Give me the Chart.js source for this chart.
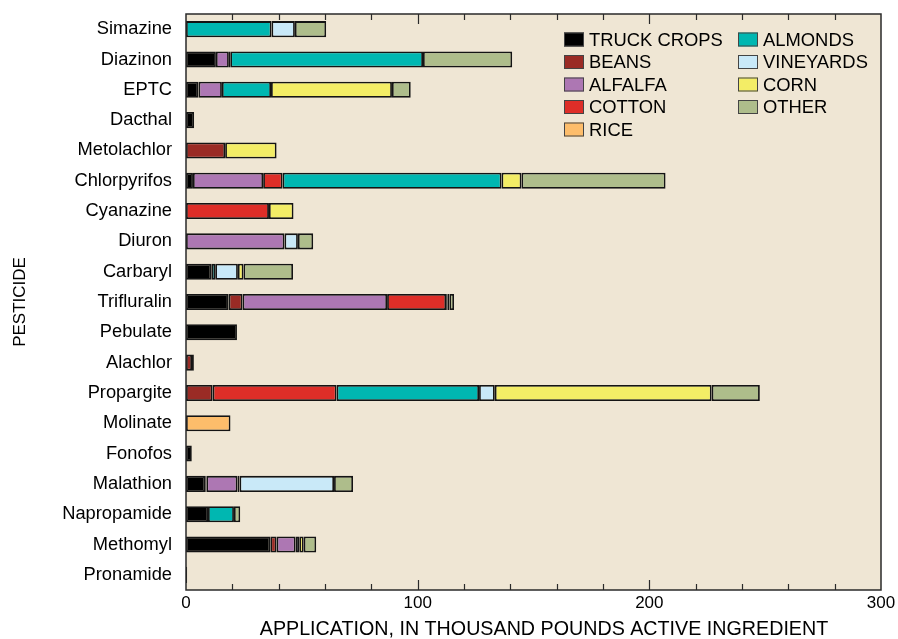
<!DOCTYPE html>
<html>
<head>
<meta charset="utf-8">
<script src="https://cdn.jsdelivr.net/npm/chart.js@4.4.1/dist/chart.umd.min.js"></script>
<style>
  html, body { margin: 0; padding: 0; background: #ffffff; }
  #wrap { width: 898px; height: 639px; position: relative; }
</style>
</head>
<body>
<div id="wrap"><canvas id="c" width="898" height="639"></canvas></div>
<script>
// ---- data ----
const pesticides = ["Simazine","Diazinon","EPTC","Dacthal","Metolachlor","Chlorpyrifos","Cyanazine","Diuron","Carbaryl","Trifluralin","Pebulate","Alachlor","Propargite","Molinate","Fonofos","Malathion","Napropamide","Methomyl","Pronamide"];
const truckCrops = [null,12.9,5.4,3.5,null,3.0,null,null,10.9,18.4,22.0,null,null,null,2.5,8.3,9.5,36.4,0.5];
const beans      = [null,null,null,null,16.9,null,null,null,null,6.0,null,2.6,11.5,null,null,0.5,null,2.7,null];
const alfalfa    = [null,5.6,10.1,null,null,30.3,null,42.5,null,62.4,null,null,null,null,null,13.4,null,8.2,null];
const cotton     = [null,0.6,null,null,null,8.4,35.8,null,null,25.5,null,0.8,53.5,null,null,0.9,null,null,null];
const rice       = [null,null,null,null,null,null,null,null,null,null,null,null,null,19.2,null,null,null,null,null];
const almonds    = [36.9,83.2,21.2,null,null,94.5,null,null,1.7,0.5,null,null,61.5,null,null,null,11.2,null,null];
const vineyards  = [10.1,null,null,null,null,null,null,5.8,9.8,0.9,null,null,6.8,null,null,40.8,null,1.6,null];
const corn       = [null,null,52.2,null,22.2,8.6,10.6,null,2.4,null,null,null,93.6,null,null,null,null,1.9,null];
const other      = [13.5,38.5,8.1,null,null,62.2,null,6.6,21.4,2.0,null,null,20.8,null,null,8.2,2.7,5.4,null];
const xTicks = [0,100,200,300];
const xTitle = "APPLICATION, IN THOUSAND POUNDS ACTIVE INGREDIENT";
const yTitle = "PESTICIDE";

const seriesNames = ["TRUCK CROPS","BEANS","ALFALFA","COTTON","RICE","ALMONDS","VINEYARDS","CORN","OTHER"];
const seriesData = [truckCrops,beans,alfalfa,cotton,rice,almonds,vineyards,corn,other];
const seriesColors = ["#000000","#9a2b25","#ad77b3","#de2e28","#fdbd6b","#00b7b1","#c9e9f8","#f3ed66","#aebd8b"];

const FONT = "'Liberation Sans', Arial, Helvetica, sans-serif";
const BG = "#efe6d4";

const bgPlugin = {
  id: 'bg',
  beforeDraw(chart) {
    const {ctx, chartArea: a} = chart;
    ctx.save();
    ctx.fillStyle = BG;
    ctx.fillRect(a.left, a.top, a.right - a.left, a.bottom - a.top);
    ctx.restore();
  }
};

const framePlugin = {
  id: 'frame',
  afterDatasetsDraw(chart) {
    const {ctx, chartArea: a, scales} = chart;
    const xs = scales.x;
    ctx.save();
    ctx.strokeStyle = "#2a2a2a";
    for (let v = 20; v < 300; v += 20) {
      const px = Math.round(xs.getPixelForValue(v)) + 0.5;
      const len = (v % 100 === 0) ? 10 : 6;
      ctx.lineWidth = 1.2;
      ctx.beginPath();
      ctx.moveTo(px, a.bottom); ctx.lineTo(px, a.bottom - len);
      ctx.moveTo(px, a.top); ctx.lineTo(px, a.top + len);
      ctx.stroke();
    }
    ctx.lineWidth = 1.5;
    ctx.strokeRect(a.left, a.top, a.right - a.left, a.bottom - a.top);
    // x-axis title
    ctx.fillStyle = "#000";
    ctx.font = "19.7px " + FONT;
    ctx.textAlign = "center";
    ctx.textBaseline = "middle";
    ctx.fillText(xTitle, 544, 630);
    ctx.restore();
  }
};

const legendPlugin = {
  id: 'customLegend',
  afterDraw(chart) {
    const {ctx} = chart;
    ctx.save();
    ctx.font = "18.4px " + FONT;
    ctx.textBaseline = "middle";
    ctx.textAlign = "left";
    const cols = [{x: 564, items: [0,1,2,3,4]}, {x: 738, items: [5,6,7,8]}];
    cols.forEach(col => {
      col.items.forEach((idx, r) => {
        const cy = 39.5 + r * 22.5;
        ctx.fillStyle = seriesColors[idx];
        ctx.fillRect(col.x, cy - 7, 20, 14);
        ctx.strokeStyle = "#444";
        ctx.lineWidth = 1;
        ctx.strokeRect(col.x + 0.5, cy - 6.5, 19, 13);
        ctx.fillStyle = "#000";
        ctx.fillText(chart.data.datasets[idx].label, col.x + 25, cy + 1);
      });
    });
    ctx.restore();
  }
};

new Chart(document.getElementById('c'), {
  type: 'bar',
  data: {
    labels: pesticides,
    datasets: seriesNames.map((name, i) => ({
      label: name,
      data: seriesData[i],
      backgroundColor: seriesColors[i],
      borderColor: "#141414",
      borderWidth: 1.8,
      borderSkipped: false,
      barPercentage: 0.53,
      categoryPercentage: 1.0
    }))
  },
  options: {
    indexAxis: 'y',
    responsive: false,
    devicePixelRatio: 1,
    animation: false,
    layout: { padding: { top: 14, right: 17, left: 0, bottom: 0 } },
    plugins: {
      legend: { display: false },
      tooltip: { enabled: false }
    },
    scales: {
      x: {
        stacked: true,
        min: 0, max: 300,
        afterBuildTicks(scale) { scale.ticks = xTicks.map(v => ({value: v})); },
        ticks: { font: { family: FONT, size: 17 }, color: "#000", padding: 3, maxRotation: 0 },
        grid: { display: false, drawTicks: false },
        border: { display: false },
        title: { display: false },
        afterFit(scale) { scale.height = 49; scale.paddingLeft = 0; scale.paddingRight = 0; }
      },
      y: {
        stacked: true,
        ticks: { font: { family: FONT, size: 18.3 }, color: "#000", padding: 14, autoSkip: false },
        grid: { display: false, drawTicks: false },
        border: { display: false },
        title: {
          display: true,
          text: yTitle,
          font: { family: FONT, size: 17 },
          color: "#000",
          padding: { top: 10, bottom: 0 }
        },
        afterFit(scale) { scale.width = 186; scale.paddingTop = 0; scale.paddingBottom = 0; }
      }
    }
  },
  plugins: [bgPlugin, framePlugin, legendPlugin]
});
</script>
</body>
</html>
